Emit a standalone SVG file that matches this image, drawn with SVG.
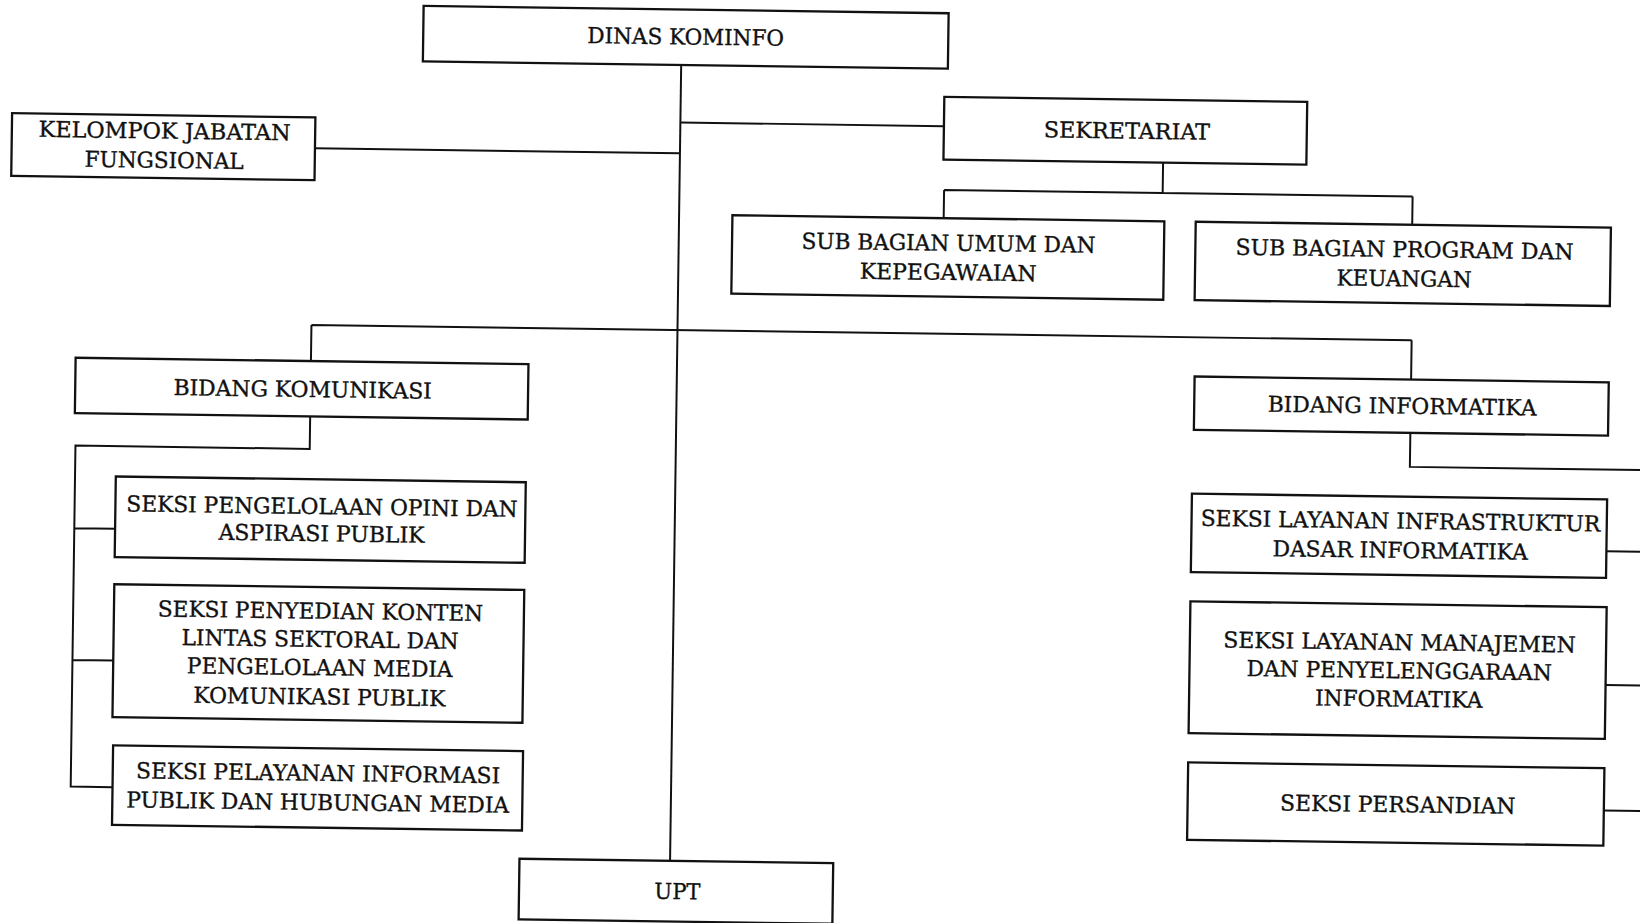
<svg xmlns="http://www.w3.org/2000/svg" width="1640" height="923" viewBox="0 0 1640 923">
<style>
.box{fill:#fff;stroke:#111;stroke-width:2.2}
.conn{fill:none;stroke:#111;stroke-width:1.9}
text{font-family:"DejaVu Serif","Liberation Serif",serif;font-size:21px;text-anchor:middle;fill:#111;stroke:#111;stroke-width:0.35}
</style>
<rect x="0" y="0" width="1640" height="923" fill="#fff"/>
<g transform="rotate(0.8 820 461.3) scale(1.045918)">
<g id="connectors">
<path class="conn" d="M646 64 V825"/>
<path class="conn" d="M297 148.5 H646"/>
<path class="conn" d="M646 119 H898"/>
<path class="conn" d="M1108 151 V180 M899 180 H1347 M899 180 V207 M1347 180 V207"/>
<path class="conn" d="M296 317.5 H1348 M296 317.5 V352 M1348 317.5 V355"/>
<path class="conn" d="M296 405 V436 H72 V762 H112 M72 515 H111 M72 641 H111"/>
<path class="conn" d="M1348 406 V438.5 H1600 M1537 516.5 H1600 M1538 644.5 H1600 M1538 764.5 H1600"/>
</g>
<g id="dinas"><rect class="box" x="399" y="11" width="502" height="53"/><text x="650" y="44.3" textLength="188" lengthAdjust="spacingAndGlyphs">DINAS KOMINFO</text></g>
<g id="kelompok"><rect class="box" x="7" y="119" width="290" height="60"/><text x="153" y="141.3" textLength="241" lengthAdjust="spacingAndGlyphs">KELOMPOK JABATAN</text><text x="153" y="169.3" textLength="152" lengthAdjust="spacingAndGlyphs">FUNGSIONAL</text></g>
<g id="sekretariat"><rect class="box" x="898" y="91" width="347" height="60"/><text x="1073" y="128.4" textLength="159" lengthAdjust="spacingAndGlyphs">SEKRETARIAT</text></g>
<g id="subumum"><rect class="box" x="697" y="207" width="413" height="75"/><text x="904" y="238" textLength="281" lengthAdjust="spacingAndGlyphs">SUB BAGIAN UMUM DAN</text><text x="904" y="266" textLength="169" lengthAdjust="spacingAndGlyphs">KEPEGAWAIAN</text></g>
<g id="subprogram"><rect class="box" x="1140" y="207" width="397" height="75"/><text x="1340" y="238" textLength="323" lengthAdjust="spacingAndGlyphs">SUB BAGIAN PROGRAM DAN</text><text x="1340" y="266" textLength="129" lengthAdjust="spacingAndGlyphs">KEUANGAN</text></g>
<g id="bidkom"><rect class="box" x="71" y="352" width="433" height="53"/><text x="288.5" y="386.4" textLength="247" lengthAdjust="spacingAndGlyphs">BIDANG KOMUNIKASI</text></g>
<g id="bidinfo"><rect class="box" x="1141" y="355" width="396" height="51"/><text x="1339.8" y="387.7" textLength="257" lengthAdjust="spacingAndGlyphs">BIDANG INFORMATIKA</text></g>
<g id="seksi-opini"><rect class="box" x="111" y="465" width="392" height="77"/><text x="308.5" y="498.2" textLength="374" lengthAdjust="spacingAndGlyphs">SEKSI PENGELOLAAN OPINI DAN</text><text x="308.5" y="524.2" textLength="197" lengthAdjust="spacingAndGlyphs">ASPIRASI PUBLIK</text></g>
<g id="seksi-konten"><rect class="box" x="111" y="568" width="392" height="127"/><text x="308.5" y="598.2" textLength="311" lengthAdjust="spacingAndGlyphs">SEKSI PENYEDIAN KONTEN</text><text x="308.5" y="625.2" textLength="265" lengthAdjust="spacingAndGlyphs">LINTAS SEKTORAL DAN</text><text x="308.5" y="652.2" textLength="254" lengthAdjust="spacingAndGlyphs">PENGELOLAAN MEDIA</text><text x="308.5" y="680.2" textLength="241" lengthAdjust="spacingAndGlyphs">KOMUNIKASI PUBLIK</text></g>
<g id="seksi-pelayanan"><rect class="box" x="112" y="722" width="392" height="76"/><text x="308.4" y="753.2" textLength="348" lengthAdjust="spacingAndGlyphs">SEKSI PELAYANAN INFORMASI</text><text x="308.4" y="781.2" textLength="366" lengthAdjust="spacingAndGlyphs">PUBLIK DAN HUBUNGAN MEDIA</text></g>
<g id="seksi-infra"><rect class="box" x="1140" y="467" width="397" height="75"/><text x="1339.8" y="497.7" textLength="382" lengthAdjust="spacingAndGlyphs">SEKSI LAYANAN INFRASTRUKTUR</text><text x="1339.8" y="525.7" textLength="244" lengthAdjust="spacingAndGlyphs">DASAR INFORMATIKA</text></g>
<g id="seksi-manajemen"><rect class="box" x="1140" y="570" width="398" height="126"/><text x="1340.5" y="613.7" textLength="337" lengthAdjust="spacingAndGlyphs">SEKSI LAYANAN MANAJEMEN</text><text x="1340.5" y="640.7" textLength="292" lengthAdjust="spacingAndGlyphs">DAN PENYELENGGARAAN</text><text x="1340.5" y="667.8" textLength="160" lengthAdjust="spacingAndGlyphs">INFORMATIKA</text></g>
<g id="seksi-persandian"><rect class="box" x="1140" y="724" width="398" height="74"/><text x="1341" y="768.8" textLength="225" lengthAdjust="spacingAndGlyphs">SEKSI PERSANDIAN</text></g>
<g id="upt"><rect class="box" x="502" y="825" width="300" height="58"/><text x="653.5" y="861.4" textLength="44" lengthAdjust="spacingAndGlyphs">UPT</text></g>
</g>
</svg>
